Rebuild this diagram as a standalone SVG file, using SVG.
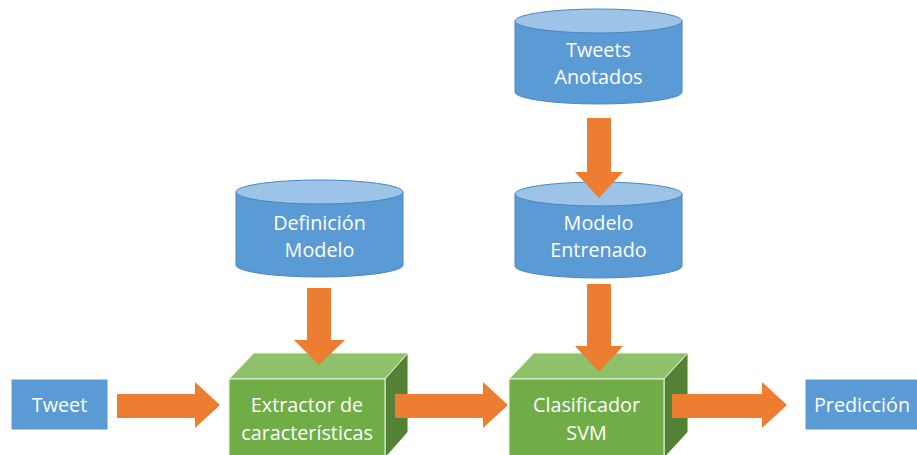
<svg xmlns="http://www.w3.org/2000/svg" width="917" height="455" viewBox="0 0 917 455">
<style>
.box{fill:#5B9BD5;stroke:#ffffff;stroke-width:1}
.cylb{fill:#5B9BD5;stroke:#4A86C0;stroke-width:1}
.cylt{fill:#9DC3E6;stroke:#4A86C0;stroke-width:1}
.front{fill:#70AD47;stroke:#E8F2E0;stroke-width:1}
.top{fill:#8FC16B;stroke:#E8F2E0;stroke-width:1}
.side{fill:#538135;stroke:#E8F2E0;stroke-width:1}
.arr{fill:#ED7D31}
text{font-family:"Open Sans","Noto Sans","Liberation Sans",sans-serif;font-size:19.8px;fill:#ffffff;text-anchor:middle}
</style>
<rect width="917" height="455" fill="#ffffff"/>
<g id="tweet">
<rect class="box" x="11" y="379" width="97" height="51"/>
<text x="59.5" y="412">Tweet</text>
</g>
<g id="prediccion">
<rect class="box" x="805" y="379" width="115" height="51"/>
<text x="862" y="412">Predicción</text>
</g>
<g id="definicion">
<path class="cylb" d="M236,192 V265 A83.5,12 0 0 0 403,265 V192"/>
<ellipse class="cylt" cx="319.5" cy="192" rx="83.5" ry="12"/>
<text x="319.5" y="230">Definición</text>
<text x="319.5" y="257">Modelo</text>
</g>
<g id="tweets-anotados">
<path class="cylb" d="M515,21 V92 A83.5,12 0 0 0 682,92 V21"/>
<ellipse class="cylt" cx="598.5" cy="21" rx="83.5" ry="12"/>
<text x="598.5" y="57">Tweets</text>
<text x="598.5" y="84">Anotados</text>
</g>
<g id="modelo-entrenado">
<path class="cylb" d="M515,194 V266 A83.5,12 0 0 0 682,266 V194"/>
<ellipse class="cylt" cx="598.5" cy="194" rx="83.5" ry="12"/>
<text x="598.5" y="230">Modelo</text>
<text x="598.5" y="257">Entrenado</text>
</g>
<g id="extractor">
<polygon class="top" points="229,379 254,353 408,353 385,379"/>
<polygon class="side" points="385,379 408,353 408,432 385,458"/>
<rect class="front" x="229" y="379" width="156" height="80"/>
<text x="307" y="412">Extractor de</text>
<text x="307" y="440">características</text>
</g>
<g id="clasificador">
<polygon class="top" points="509,379 534,353 688,353 664,379"/>
<polygon class="side" points="664,379 688,353 688,432 664,458"/>
<rect class="front" x="509" y="379" width="155" height="80"/>
<text x="586.5" y="412">Clasificador</text>
<text x="586.5" y="440">SVM</text>
</g>
<g id="connectors">
<polygon class="arr" points="117,394 195,394 195,382 220,405 195,428 195,418 117,418"/>
<polygon class="arr" points="395,394 483,394 483,382 508,405 483,428 483,418 395,418"/>
<polygon class="arr" points="672,394 762,394 762,382 787,405 762,428 762,418 672,418"/>
<polygon class="arr" points="307,288 331,288 331,340 345,340 319,365 294,340 307,340"/>
<polygon class="arr" points="587,118 611,118 611,172 623,172 599,198 575,172 587,172"/>
<polygon class="arr" points="587,284 611,284 611,346 623,346 599,372 575,346 587,346"/>
</g>
</svg>
